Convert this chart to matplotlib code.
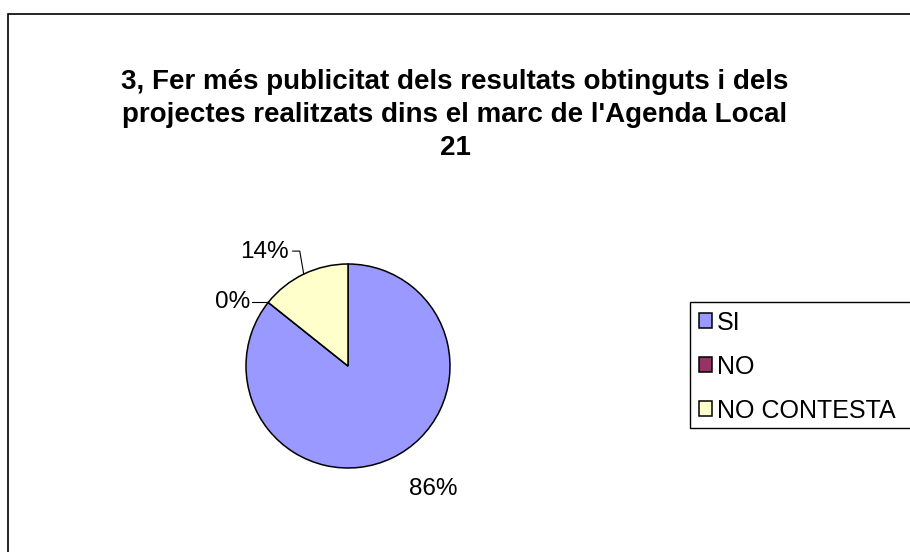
import numpy as np
import matplotlib
matplotlib.use("Agg")
import matplotlib.pyplot as plt
from matplotlib.patches import Rectangle

plt.rcParams['font.family'] = ['Liberation Sans', 'DejaVu Sans']

title = "3, Fer més publicitat dels resultats obtinguts i dels\nprojectes realitzats dins el marc de l'Agenda Local\n21"
categories = ["SI", "NO", "NO CONTESTA"]
counts = [6, 0, 1]
colors = ["#9999FF", "#993366", "#FFFFCC"]

W, H = 910, 552
fig = plt.figure(figsize=(W / 100, H / 100), dpi=100)
fig.patch.set_facecolor("white")

# whole figure as a pixel-sized axes (y up)
ax = fig.add_axes([0, 0, 1, 1])

# outer chart border, clipped at right/bottom like the original
ax.add_patch(Rectangle((8, -10), W, H - 14 + 10, fill=False,
                       edgecolor="black", linewidth=1.2))

fig.text(0.5, 1 - 115 / H, title, ha="center", va="center",
         fontsize=20, fontweight="bold", linespacing=1.37)

cx, cy, r = 348, H - 366, 102
wedges, _ = ax.pie(counts, colors=colors, startangle=90, counterclock=False,
                   center=(cx, cy), radius=r, frame=True,
                   wedgeprops=dict(edgecolor="black", linewidth=1.1))
ax.set_xlim(0, W)
ax.set_ylim(0, H)
ax.set_aspect("auto")
ax.axis("off")

total = sum(counts)
pcts = [round(100 * c / total) for c in counts]

# label for SI (no leader line)
ang = np.deg2rad(90 - 360 * (counts[0] / 2) / total)
ax.text(cx + 1.3 * r * np.cos(ang) + 28, cy + 1.3 * r * np.sin(ang) - 4,
        f"{pcts[0]}%", fontsize=17.5, ha="center", va="center")

# label for NO (sits at the boundary, short horizontal leader)
ang = np.deg2rad(90 - 360 * (counts[0] + counts[1] / 2) / total)
ex, ey = cx + r * np.cos(ang), cy + r * np.sin(ang)
ax.plot([ex, ex - 16], [ey, ey], color="black", linewidth=0.8)
ax.text(ex - 18, ey, f"{pcts[1]}%", fontsize=17.5, ha="right", va="center")

# label for NO CONTESTA (bent leader)
ang = np.deg2rad(90 - 360 * (counts[0] + counts[1] + counts[2] / 2) / total)
ex, ey = cx + r * np.cos(ang), cy + r * np.sin(ang)
ax.plot([ex, ex - 4, ex - 11], [ey, ey + 23, ey + 23], color="black", linewidth=0.8)
ax.text(ex - 15, ey + 22, f"{pcts[2]}%", fontsize=17.5, ha="right", va="center")

# legend box runs past the right edge, as in the original
ax.add_patch(Rectangle((690, H - 428), 240, 126, fill=False,
                       edgecolor="black", linewidth=1.0))
fig.legend(wedges, categories, loc="upper left",
           bbox_to_anchor=(690 / W, 1 - 302 / H), fontsize=18,
           frameon=False, handlelength=0.55, handleheight=0.55,
           handletextpad=0.2, labelspacing=0.8, borderpad=0.34,
           borderaxespad=0)

fig.savefig("out.png", dpi=100)
